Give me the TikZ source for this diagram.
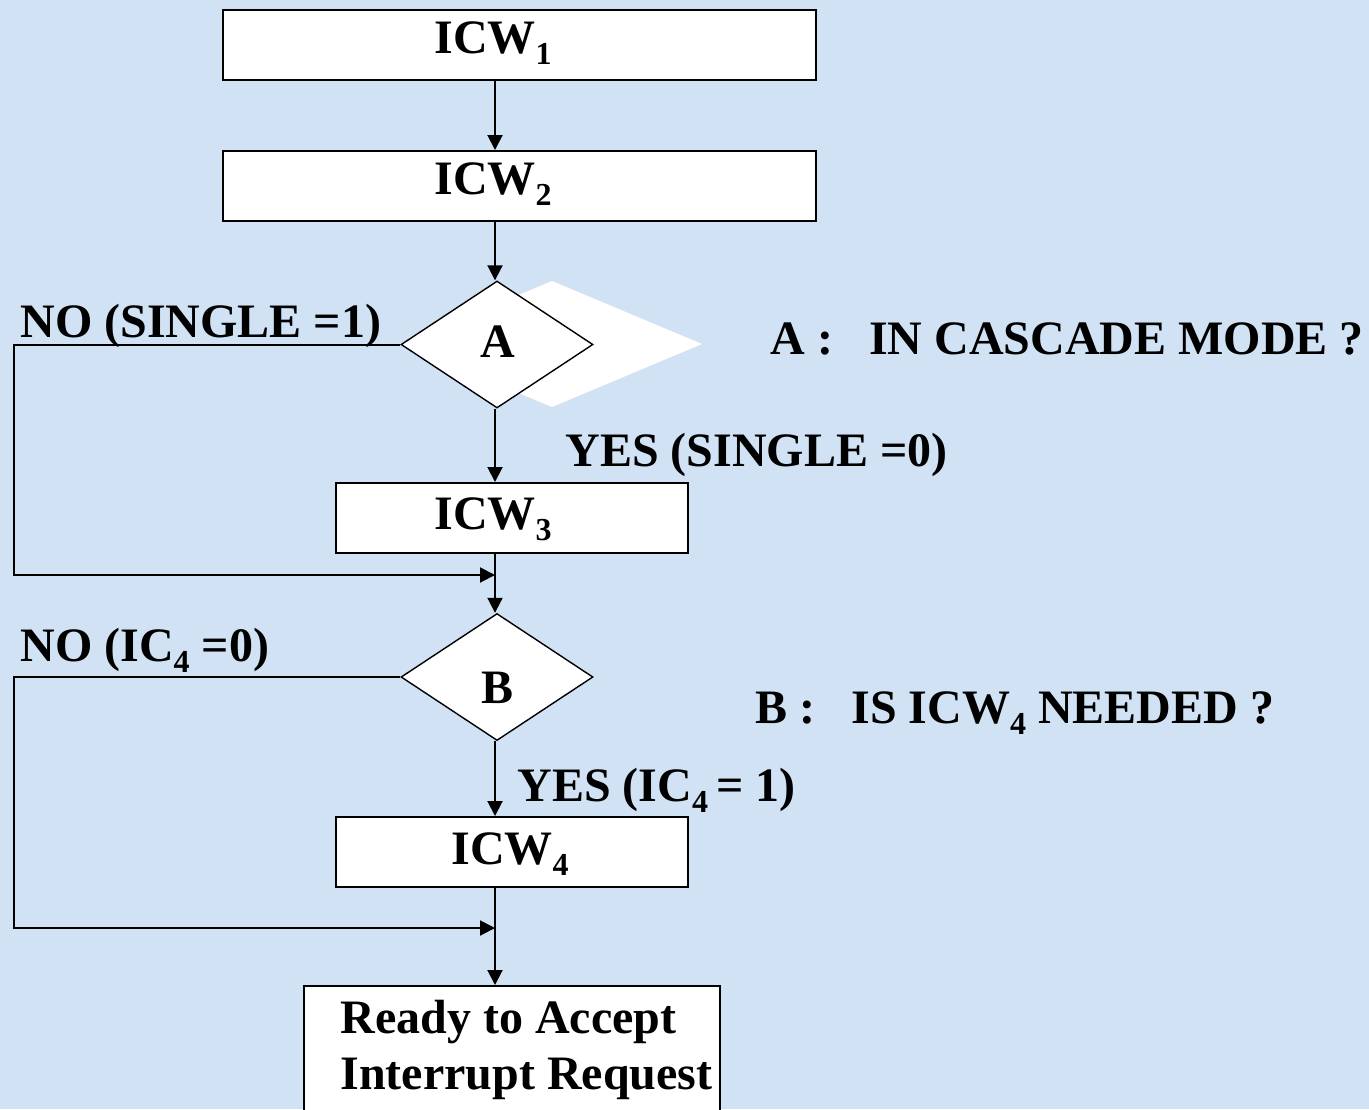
\documentclass[tikz,border=0pt]{standalone}
\usepackage{fontspec}
\setmainfont{Liberation Serif}
\usetikzlibrary{shapes.geometric,arrows.meta}
\definecolor{bgblue}{RGB}{208,226,243}
\newcommand{\mysb}[1]{\raisebox{-0.24em}{\fontsize{16}{16}\selectfont #1}}
\tikzset{
  px/.style={x=0.5pt,y=-0.5pt},
  boxnode/.style={draw=black,fill=white,line width=1pt,inner sep=0pt,anchor=north west},
  decnode/.style={diamond,draw=black,fill=white,line width=0.7pt,inner sep=0pt,minimum width=96pt,minimum height=63.5pt},
  txt/.style={font=\fontsize{24}{28}\selectfont\bfseries,inner sep=0pt},
  arr/.style={line width=1pt,-{Triangle[length=7.5pt,width=7.5pt]}},
  ln/.style={line width=1pt}
}
\begin{document}
\begin{tikzpicture}[px]
\useasboundingbox (0,0) rectangle (1369,1109);
\clip (0,0) rectangle (1369,1109);
\fill[bgblue] (0,0) rectangle (1369,1109);

% boxes
\node[boxnode,minimum width=296.5pt,minimum height=35pt] (b1) at (222,9) {};
\node[boxnode,minimum width=296.5pt,minimum height=35pt] (b2) at (222,150) {};
\node[boxnode,minimum width=176pt,minimum height=35pt] (b3) at (335,482) {};
\node[boxnode,minimum width=176pt,minimum height=35pt] (b4) at (335,816) {};
\node[boxnode,minimum width=208pt,minimum height=75pt] (b5) at (303,985) {};

% shadow of diamond A
\fill[white] (402,344) -- (552,281) -- (702,344) -- (552,407) -- cycle;
% diamonds
\node[decnode] (A) at (497,344.5) {};
\node[decnode] (B) at (497,677) {};

% texts
\node[txt,anchor=base] (t1) at (493,53) {ICW\mysb{1}};
\node[txt,anchor=base] (t2) at (493,194) {ICW\mysb{2}};
\node[txt,anchor=base] (t3) at (493,529) {ICW\mysb{3}};
\node[txt,anchor=base] (t4) at (510,864) {ICW\mysb{4}};
\node[txt,anchor=base] (tA) at (498,357) {A};
\node[txt,anchor=base] (tB) at (497,703) {B};
\node[txt,anchor=north west,align=left] (t5) at (340,1000) {Ready to Accept\\Interrupt Request};
\node[txt,anchor=base west] (noA) at (20,337) {NO (SINGLE =1)};
\node[txt,anchor=base west] (yesA) at (565,466) {YES (SINGLE =0)};
\node[txt,anchor=base west] (noB) at (20,661) {NO (IC\mysb{4} =0)};
\node[txt,anchor=base west] (yesB) at (517,801) {YES (IC\mysb{4}\,= 1)};
\node[txt,anchor=base west] (qA) at (770,354) {A :\ \ \ IN CASCADE MODE ?};
\node[txt,anchor=base west] (qB) at (755,723) {B :\ \ \ IS ICW\mysb{4} NEEDED ?};

% junction coordinates
\coordinate (j1) at (495,575);
\coordinate (j2) at (495,928);
\coordinate (lA) at (14,575);
\coordinate (lB) at (14,928);

% connectors
\draw[arr] (b1.south -| j1) -- (b2.north -| j1);
\draw[arr] (b2.south -| j1) -- (A.north -| j1);
\draw[arr] (A.south -| j1) -- (b3.north -| j1);
\draw[arr] (b3.south -| j1) -- (B.north -| j1);
\draw[arr] (B.south -| j1) -- (b4.north -| j1);
\draw[arr] (b4.south -| j1) -- (b5.north -| j1);
\draw[arr] (A.west) -| (lA) -- (j1);
\draw[arr] (B.west) -| (lB) -- (j2);
\end{tikzpicture}
\end{document}
